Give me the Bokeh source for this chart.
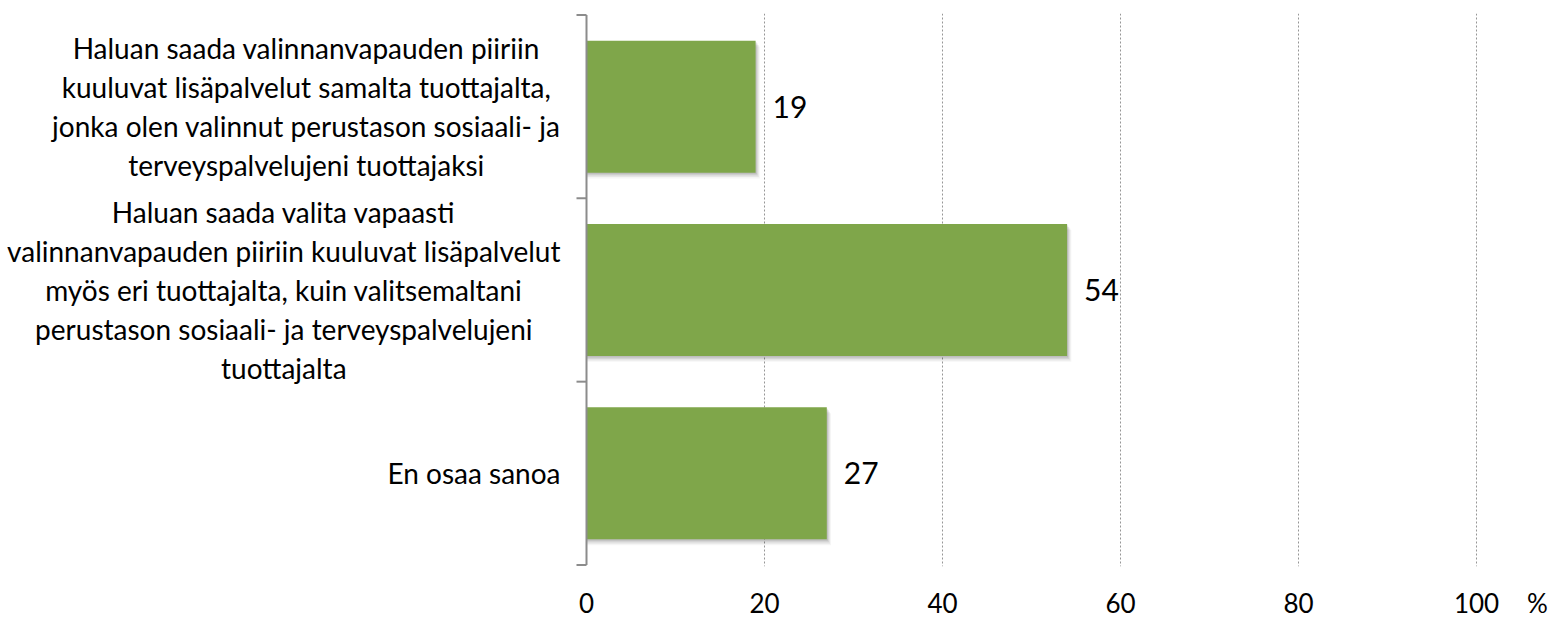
from bokeh.plotting import figure
from bokeh.models import ColumnDataSource, Range1d, FixedTicker, Label, LabelSet
from bokeh.core.properties import value
from bokeh.embed import file_html
from bokeh.resources import INLINE

# ---- data ----
categories = [
    "Haluan saada valinnanvapauden piiriin\nkuuluvat lisäpalvelut samalta tuottajalta,\njonka olen valinnut perustason sosiaali- ja\nterveyspalvelujeni tuottajaksi",
    "Haluan saada valita vapaasti\nvalinnanvapauden piiriin kuuluvat lisäpalvelut\nmyös eri tuottajalta, kuin valitsemaltani\nperustason sosiaali- ja terveyspalvelujeni\ntuottajalta",
    "En osaa sanoa",
]
values = [19, 54, 27]
x_ticks = [0, 20, 40, 60, 80, 100]
unit_label = "%"

FONT = "Lato"
BAR_COLOR = "#7FA64A"
AXIS_COLOR = "#8C8C8C"

# ---- layout geometry (pixels) ----
W, H = 1550, 621
ZERO_PX = 586          # page x of value 0
FULL_PX = 1476         # page x of value 100
TOP_PX, BOTTOM_PX = 13, 566
ppu = (FULL_PX - ZERO_PX) / 100.0
x_start = -ZERO_PX / ppu
x_end = (W - ZERO_PX) / ppu

n = len(categories)
pos = [i + 0.5 for i in range(n)]
pad = 1.5 / ((BOTTOM_PX - TOP_PX) / n)
src = ColumnDataSource(dict(y=pos, v=values, lbl=[str(v) for v in values]))

p = figure(width=W, height=H, output_backend="svg", toolbar_location=None,
           x_range=Range1d(x_start, x_end), y_range=Range1d(n + pad, -pad),
           min_border_left=0, min_border_right=0,
           min_border_top=TOP_PX, min_border_bottom=H - BOTTOM_PX)
p.outline_line_color = None
p.background_fill_color = "white"
p.border_fill_color = "white"

# shadow layers
for k, a in enumerate([0.10, 0.08, 0.06, 0.04]):
    d = 0.008 * (k + 1)
    p.hbar(y=[y + d for y in pos], right=[v + 0.12 * (k + 1) for v in values], left=0,
           height=0.72, fill_color="black", fill_alpha=a, line_color=None)

p.hbar(y="y", right="v", left=0, height=0.72, source=src,
       fill_color=BAR_COLOR, line_color=None)

# x axis (labels only) + unit label as an extra tick
unit_x = 100 + (1537 - FULL_PX) / ppu
p.xaxis.ticker = FixedTicker(ticks=x_ticks + [unit_x])
p.xaxis.major_label_overrides = {unit_x: unit_label}
p.xaxis.axis_line_color = None
p.xaxis.major_tick_line_color = None
p.xaxis.minor_tick_line_color = None
p.xaxis.major_tick_out = 0
p.xaxis.major_tick_in = 0
p.xaxis.minor_tick_out = 0
p.xaxis.major_label_standoff = 20
p.xaxis.major_label_text_font = FONT
p.xaxis.major_label_text_font_size = "26px"
p.xaxis.major_label_text_color = "black"

p.yaxis.visible = False
p.ygrid.grid_line_color = None
p.xgrid.ticker = FixedTicker(ticks=x_ticks[1:])
p.xgrid.grid_line_color = "#969696"
p.xgrid.grid_line_dash = "2 2"
p.xgrid.grid_line_width = 1

# value axis line at 0 with outward ticks at category boundaries
tick_len = 10 / ppu
bounds = list(range(n + 1))
p.segment(x0=[0], x1=[0], y0=[0], y1=[n], line_color=AXIS_COLOR, line_width=2)
p.segment(x0=[0] * len(bounds), x1=[-tick_len] * len(bounds), y0=bounds, y1=bounds,
          line_color=AXIS_COLOR, line_width=2)

# value labels
p.add_layout(LabelSet(x="v", y="y", text="lbl", source=src, x_offset=17,
                      text_baseline="middle", text_align="left",
                      text_font=value(FONT), text_font_size=value("30px"),
                      text_color="black"))

# category labels
for c, y in zip(categories, pos):
    p.add_layout(Label(x=0, y=y, x_offset=-26, text=c, anchor="center_right",
                       text_align="center", text_baseline="middle",
                       text_font=FONT, text_font_size="28px", text_color="black",
                       text_line_height=1.15))

open("out.html", "w").write(file_html(p, INLINE))
